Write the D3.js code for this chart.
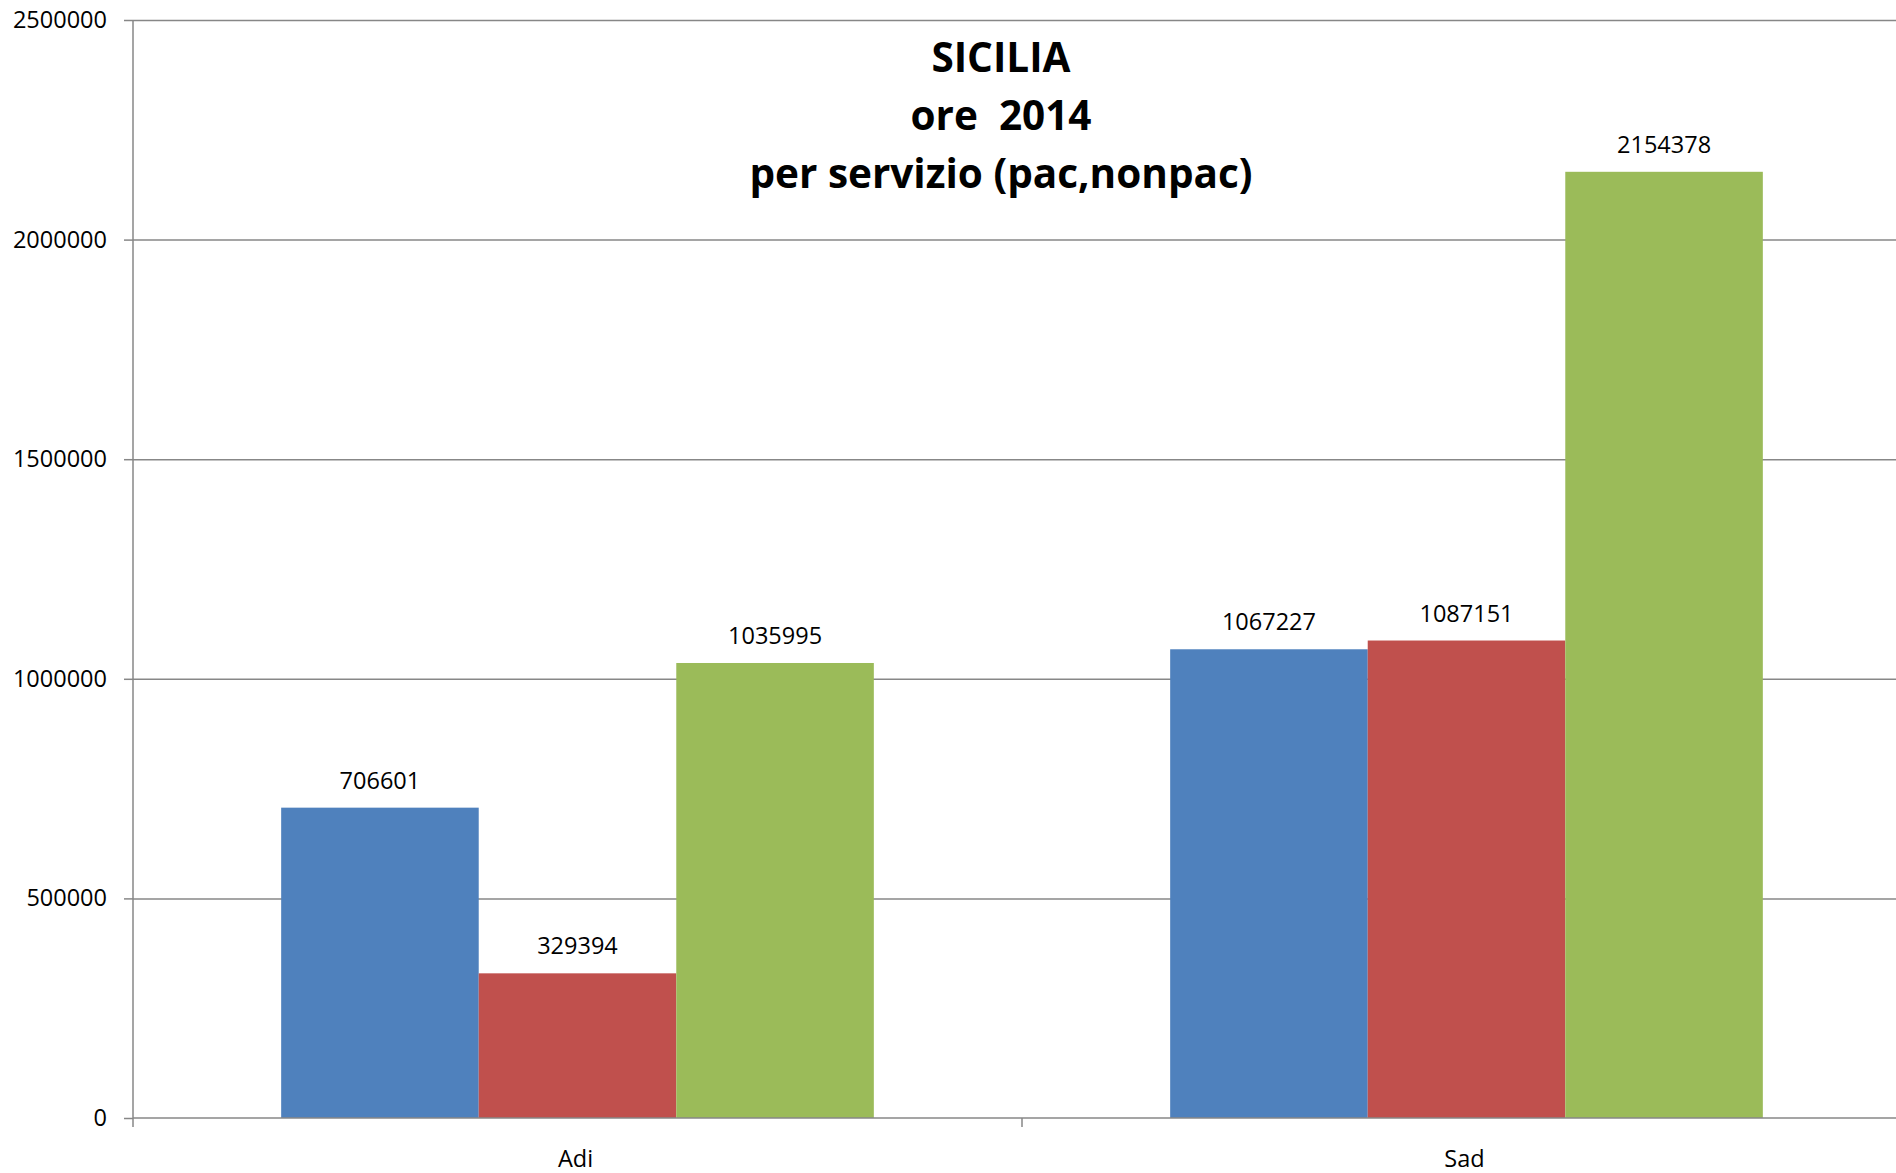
<!DOCTYPE html>
<html>
<head>
<meta charset="utf-8">
<script src="https://d3js.org/d3.v7.min.js"></script>
<style>
    body { margin: 0; background: #fff; }
    svg { display: block; }
    .grid line { stroke: #878787; stroke-width: 1.5; }
    .grid path { stroke-width: 0; }
    .axis path, .axis line { stroke: #878787; stroke-width: 1.5; }
    .axis text { font-family: "Open Sans", sans-serif; font-size: 23.5px; fill: #000; }
    .lbl { font-family: "Open Sans", sans-serif; font-size: 23.5px; fill: #000; }
    .title { font-family: "Open Sans", sans-serif; font-weight: bold; font-size: 40.5px; fill: #000; }
</style>
</head>
<body>
<svg width="1896" height="1173"></svg>
<script>
    // data
    var categories = ["Adi", "Sad"];
    var seriesNames = ["pac", "nonpac", "totale"];
    var seriesColors = ["#4F81BD", "#C0504D", "#9BBB59"];
    var pacValues = [706601, 1067227];
    var nonpacValues = [329394, 1087151];
    var totaleValues = [1035995, 2154378];
    var yTicks = [0, 500000, 1000000, 1500000, 2000000, 2500000];
    var titleLines = ["SICILIA", "ore  2014", "per servizio (pac,nonpac)"];

    var series = [pacValues, nonpacValues, totaleValues];

    var svg = d3.select("svg"),
        margin = { top: 20, right: -15, bottom: 55, left: 133 },
        width = +svg.attr("width") - margin.left - margin.right,
        height = +svg.attr("height") - margin.top - margin.bottom;

    var x0 = d3.scaleBand()
        .domain(categories)
        .range([0, width])
        .paddingInner(1 / 3)
        .paddingOuter(1 / 6);

    var x1 = d3.scaleBand()
        .domain(d3.range(series.length))
        .range([0, x0.bandwidth()]);

    var y = d3.scaleLinear()
        .domain([0, 2500000])
        .range([height, 0]);

    var g = svg.append("g")
        .attr("transform", "translate(" + margin.left + "," + margin.top + ")");

    // gridlines
    g.append("g")
        .attr("class", "grid")
        .call(d3.axisLeft(y).tickValues(yTicks.slice(1)).tickSize(-width).tickFormat(""));

    // bars
    var groups = g.selectAll(".grp")
        .data(categories)
        .enter().append("g")
        .attr("class", "grp")
        .attr("transform", function (d) { return "translate(" + x0(d) + ",0)"; });

    groups.each(function (cat, ci) {
        var grp = d3.select(this);
        series.forEach(function (vals, si) {
            grp.append("rect")
                .attr("x", x1(si))
                .attr("y", y(vals[ci]))
                .attr("width", x1.bandwidth())
                .attr("height", height - y(vals[ci]))
                .attr("fill", seriesColors[si]);
            grp.append("text")
                .attr("class", "lbl")
                .attr("x", x1(si) + x1.bandwidth() / 2)
                .attr("y", y(vals[ci]) - 19)
                .attr("text-anchor", "middle")
                .text(vals[ci]);
        });
    });

    // y axis
    var yAxis = d3.axisLeft(y)
        .tickValues(yTicks)
        .tickSize(9)
        .tickPadding(17)
        .tickFormat(d3.format("d"));

    g.append("g")
        .attr("class", "axis axis--y")
        .call(yAxis)
        .select(".domain").attr("d", "M0," + height + "V0");

    // x axis: ticks on category boundaries
    var xa = g.append("g")
        .attr("class", "axis axis--x")
        .attr("transform", "translate(0," + height + ")");
    xa.append("line")
        .attr("x1", 0).attr("x2", width)
        .attr("y1", 0).attr("y2", 0);
    var bounds = [0].concat(categories.map(function (c) { return x0(c) + x0.bandwidth() + x0.step() * x0.paddingOuter(); }));
    xa.selectAll(".bt")
        .data(bounds)
        .enter().append("line")
        .attr("class", "bt")
        .attr("x1", function (d) { return d; })
        .attr("x2", function (d) { return d; })
        .attr("y1", 0).attr("y2", 9);
    xa.selectAll(".cl")
        .data(categories)
        .enter().append("text")
        .attr("x", function (d) { return x0(d) + x0.bandwidth() / 2 - 2; })
        .attr("y", 49)
        .attr("text-anchor", "middle")
        .text(function (d) { return d; });

    // title
    svg.append("g")
        .selectAll("text")
        .data(titleLines)
        .enter().append("text")
        .attr("class", "title")
        .attr("x", 1001)
        .attr("y", function (d, i) { return 72 + i * 58; })
        .attr("text-anchor", "middle")
        .attr("xml:space", "preserve")
        .style("white-space", "pre")
        .text(function (d) { return d; });
</script>
</body>
</html>
